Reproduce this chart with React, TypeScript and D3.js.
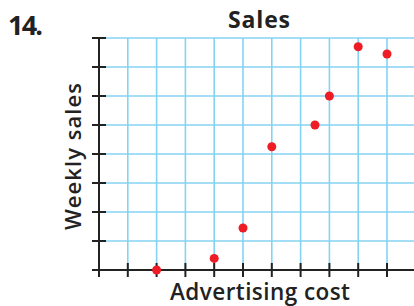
import React, { useEffect, useRef } from "react";
import * as d3 from "d3";

// (grid units)
const advertising = [2, 4, 5, 6, 7.5, 8, 9, 10];
const weeklySales = [0, 0.4, 1.45, 4.25, 5, 6, 7.7, 7.45];
const xTicks = [0, 1, 2, 3, 4, 5, 6, 7, 8, 9, 10, 11];
const yTicks = [0, 1, 2, 3, 4, 5, 6, 7, 8];

const title = "Sales";
const number = "14.";
const xLabel = "Advertising cost";
const yLabel = "Weekly sales";

const W = 414;
const H = 306;
const FONT = "'Open Sans', 'DejaVu Sans', sans-serif";

export default function App() {
  const ref = useRef<SVGSVGElement>(null);

  useEffect(() => {
    const svg = d3.select(ref.current);
    svg.selectAll("*").remove();

    const x = d3.scaleLinear().domain([0, 11]).range([99, 415.8]);
    const y = d3.scaleLinear().domain([0, 8]).range([270, 38]);

    const grid = svg.append("g").attr("stroke", "#84d3f3").attr("stroke-width", 1.6);

    // vertical grid
    grid.selectAll("line.v")
      .data(xTicks.filter(d => d > 0))
      .enter()
      .append("line")
      .attr("x1", d => x(d))
      .attr("x2", d => x(d))
      .attr("y1", y(8))
      .attr("y2", y(0));

    // horizontal grid
    grid.selectAll("line.h")
      .data(yTicks.filter(d => d > 0))
      .enter()
      .append("line")
      .attr("x1", x(0))
      .attr("x2", W)
      .attr("y1", d => y(d))
      .attr("y2", d => y(d));

    const axes = svg.append("g").attr("stroke", "#222").attr("stroke-width", 2);

    // axis lines
    axes.append("line")
      .attr("x1", x(0)).attr("x2", x(0))
      .attr("y1", y(8)).attr("y2", y(0) + 7);
    axes.append("line")
      .attr("x1", x(0) - 7).attr("x2", W)
      .attr("y1", y(0)).attr("y2", y(0));

    // ticks crossing the axes
    axes.selectAll("line.yt")
      .data(yTicks)
      .enter()
      .append("line")
      .attr("x1", x(0) - 7)
      .attr("x2", x(0) + 7)
      .attr("y1", d => y(d))
      .attr("y2", d => y(d));

    axes.selectAll("line.xt")
      .data(xTicks)
      .enter()
      .append("line")
      .attr("x1", d => x(d))
      .attr("x2", d => x(d))
      .attr("y1", y(0) - 7)
      .attr("y2", y(0) + 7);

    // points
    svg.append("g")
      .selectAll("circle")
      .data(advertising.map((a, i) => ({ a, s: weeklySales[i] })))
      .enter()
      .append("circle")
      .attr("cx", d => x(d.a))
      .attr("cy", d => y(d.s))
      .attr("r", 4.5)
      .attr("fill", "#ee1c24");

    // texts
    svg.append("text")
      .attr("x", 8)
      .attr("y", 35)
      .attr("font-family", FONT)
      .attr("font-size", 27)
      .attr("font-weight", "bold")
      .attr("fill", "#222")
      .attr("textLength", 35)
      .text(number);

    svg.append("text")
      .attr("x", 228)
      .attr("y", 28)
      .attr("font-family", FONT)
      .attr("font-size", 23)
      .attr("font-weight", "bold")
      .attr("fill", "#222")
      .attr("textLength", 62)
      .text(title);

    svg.append("text")
      .attr("x", 170)
      .attr("y", 300)
      .attr("font-family", FONT)
      .attr("font-size", 22.5)
      .attr("font-weight", 600)
      .attr("fill", "#222")
      .attr("textLength", 180)
      .text(xLabel);

    svg.append("text")
      .attr("transform", "translate(81,230) rotate(-90)")
      .attr("font-family", FONT)
      .attr("font-size", 22)
      .attr("font-weight", 600)
      .attr("fill", "#222")
      .attr("textLength", 147)
      .text(yLabel);
  }, []);

  return (
    <svg
      ref={ref}
      width={W}
      height={H}
      style={{ position: "absolute", left: 0, top: 0, background: "#fff" }}
    />
  );
}
